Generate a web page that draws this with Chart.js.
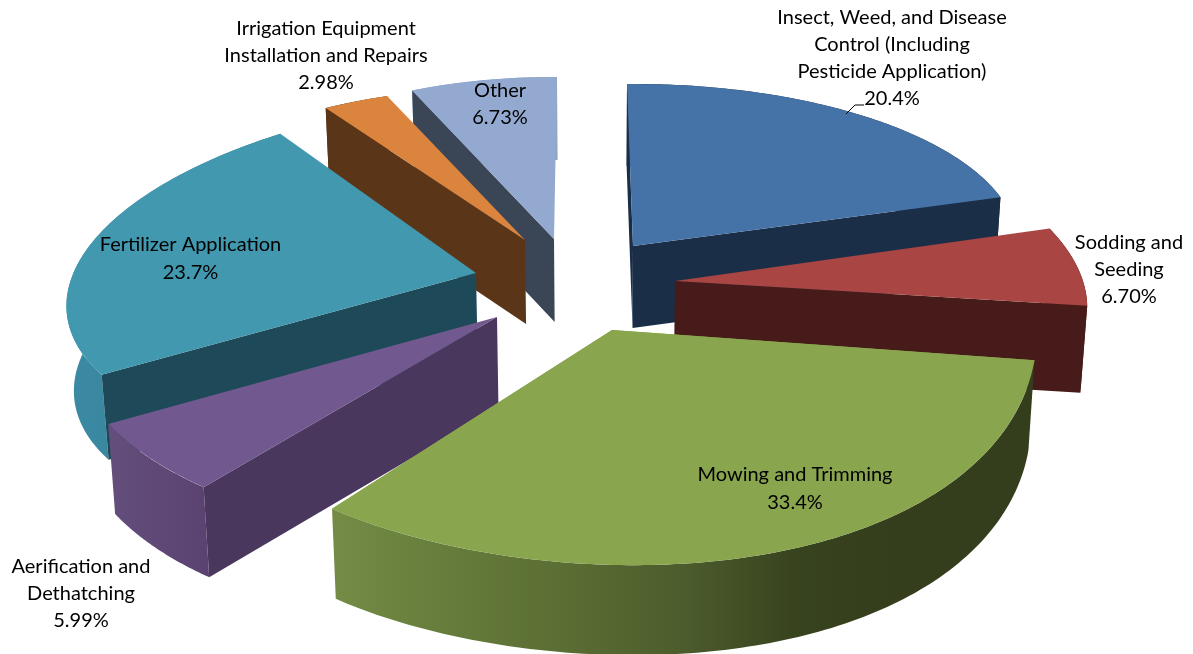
<!DOCTYPE html>
<html>
<head>
<meta charset="utf-8">
<style>
  html, body { margin: 0; padding: 0; background: #fff; }
  #wrap { width: 1193px; height: 654px; }
</style>
<script src="https://cdn.jsdelivr.net/npm/chart.js@4/dist/chart.umd.min.js"></script>
</head>
<body>
<div id="wrap"><canvas id="pie" width="1193" height="654"></canvas></div>
<script>
// Lawn care services, share of revenue
const categories = [
  'Insect, Weed, and Disease Control (Including Pesticide Application)',
  'Sodding and Seeding',
  'Mowing and Trimming',
  'Aerification and Dethatching',
  'Fertilizer Application',
  'Irrigation Equipment Installation and Repairs',
  'Other'
];
const shares = [20.4, 6.70, 33.4, 5.99, 23.7, 2.98, 6.73];
const shareLabels = ['20.4%', '6.70%', '33.4%', '5.99%', '23.7%', '2.98%', '6.73%'];

// Wrapped label text
const labelLines = [
  ['Insect, Weed, and Disease', 'Control (Including', 'Pesticide Application)'],
  ['Sodding and', 'Seeding'],
  ['Mowing and Trimming'],
  ['Aerification and', 'Dethatching'],
  ['Fertilizer Application'],
  ['Irrigation Equipment', 'Installation and Repairs'],
  ['Other']
];

// Slice styling
const topColors = ['#4573a7', '#a94543', '#89a54e', '#71588f', '#4198af', '#db843d', '#93a9cf'];
const wallColors = ['#1b2e48', '#471b19', '#36401d', '#4a375e', '#1e4958', '#5b3518', '#3a4556'];
const rimStops = [
  ['#1b2e48', '#1b2e48'],
  ['#471b19', '#471b19'],
  ['#748c46', '#667c3b', '#5a6d33', '#4c5c2c', '#37421e', '#343d1c', '#343d1c'],
  ['#644e7c', '#5a4370'],
  ['#3b8aa3', '#357c93'],
  ['#5b3518', '#5b3518'],
  ['#8fa4c9', '#8fa4c9']
];

// Explosion of each slice from the pie centre, in pixels
const explode = [[36.5, -81], [78.5, -46], [15.5, 3], [-99.5, -10], [-120.5, -54], [-71.5, -87], [-42.5, -88]];
// Tilted view: screen vectors of the slice's local right and up axes at full radius
const rightAxis = [[385, -3], [408, 0], [429, 0], [429, 5], [407, -13], [369, 13], [352, 2]];
const upAxis = [[-6, -162], [-59, -185], [20, -227], [37, -220], [46, -179], [15, -152], [3, -162]];
// Extra swelling of the near edge, where the view's perspective enlarges a slice
const nearSwell = [[0, 0], [0, 0], [20, 28], [0, 0], [0, 0], [0, 0], [0, 0]];
const depths = [82, 87, 90, 90, 85, 84, 83];
const visibleWalls = [['start', 'end'], ['end'], [], ['start'], ['start'], ['start'], ['start']];
const paintOrder = [6, 5, 4, 0, 1, 3, 2];
const vanishX = 600;
const vanishPull = 0.014;

// Label placement: centre x and first line-centre y, with line pitch
const labelPlace = [[892, 18, 26.7], [1129, 243, 27], [795, 475, 28], [81, 567, 27], [190.5, 245, 28], [326, 29, 27], [500, 91, 27]];
const labelFont = '20px Lato, "Open Sans", sans-serif';

function project(i, arc, angle) {
  const c = Math.cos(angle), s = Math.sin(angle);
  const t = (angle - arc.startAngle) / (arc.endAngle - arc.startAngle);
  const swell = Math.sin(Math.PI * t) * (1 - t);
  return {
    x: arc.x + explode[i][0] + c * rightAxis[i][0] - s * upAxis[i][0] + swell * nearSwell[i][0],
    y: arc.y + explode[i][1] + c * rightAxis[i][1] - s * upAxis[i][1] + swell * nearSwell[i][1]
  };
}
function drop(i, p) {
  return { x: p.x + (vanishX - p.x) * vanishPull, y: p.y + depths[i] };
}
function polygon(ctx, pts, fill) {
  ctx.beginPath();
  pts.forEach((p, k) => k ? ctx.lineTo(p.x, p.y) : ctx.moveTo(p.x, p.y));
  ctx.closePath();
  ctx.fillStyle = fill;
  ctx.fill();
}
function rimPoints(i, arc) {
  const pts = [];
  const steps = 120;
  for (let k = 0; k <= steps; k++) {
    pts.push(project(i, arc, arc.startAngle + (arc.endAngle - arc.startAngle) * k / steps));
  }
  return pts;
}

function drawRim(ctx, i, arc) {
  const top = rimPoints(i, arc);
  const bottom = top.map(p => drop(i, p)).reverse();
  const xs = top.map(p => p.x);
  const grad = ctx.createLinearGradient(Math.min(...xs), 0, Math.max(...xs), 0);
  rimStops[i].forEach((col, k) => grad.addColorStop(k / (rimStops[i].length - 1), col));
  polygon(ctx, top.concat(bottom), grad);
}

function drawWall(ctx, i, arc, side) {
  const apex = { x: arc.x + explode[i][0], y: arc.y + explode[i][1] };
  const rimPoint = project(i, arc, side === 'start' ? arc.startAngle : arc.endAngle);
  polygon(ctx, [apex, rimPoint, drop(i, rimPoint), drop(i, apex)], wallColors[i]);
}

function drawTop(ctx, i, arc) {
  const R = arc.outerRadius;
  const apex = { x: arc.x + explode[i][0], y: arc.y + explode[i][1] };
  ctx.save();
  ctx.transform(
    rightAxis[i][0] / R, rightAxis[i][1] / R,
    -upAxis[i][0] / R, -upAxis[i][1] / R,
    apex.x, apex.y
  );
  ctx.translate(-arc.x, -arc.y);
  arc.draw(ctx);
  ctx.restore();
  if (nearSwell[i][0] || nearSwell[i][1]) {
    polygon(ctx, [apex].concat(rimPoints(i, arc)), topColors[i]);
  }
}

// Turns the flat pie into raised, exploded wedges
const raisedSlices = {
  id: 'raisedSlices',
  beforeDatasetDraw(chart, args) {
    const ctx = chart.ctx;
    const arcs = args.meta.data;
    paintOrder.forEach(i => {
      drawRim(ctx, i, arcs[i]);
      visibleWalls[i].forEach(side => drawWall(ctx, i, arcs[i], side));
      drawTop(ctx, i, arcs[i]);
    });
    return false;
  },
  afterDraw(chart) {
    const ctx = chart.ctx;
    ctx.save();
    ctx.font = labelFont;
    ctx.fillStyle = '#000';
    ctx.textAlign = 'center';
    ctx.textBaseline = 'middle';
    labelLines.forEach((lines, i) => {
      const [x, y, pitch] = labelPlace[i];
      lines.concat(shareLabels[i]).forEach((text, k) => ctx.fillText(text, x, y + k * pitch));
    });
    // Leader from the first slice to its value
    ctx.strokeStyle = '#000';
    ctx.lineWidth = 1;
    ctx.beginPath();
    ctx.moveTo(846, 114);
    ctx.lineTo(855, 105);
    ctx.lineTo(864, 105);
    ctx.stroke();
    ctx.restore();
  }
};

new Chart(document.getElementById('pie'), {
  type: 'pie',
  data: {
    labels: categories,
    datasets: [{ data: shares, backgroundColor: topColors, borderWidth: 0 }]
  },
  options: {
    responsive: false,
    animation: false,
    rotation: 0,
    layout: { padding: 0 },
    events: [],
    plugins: { legend: { display: false }, tooltip: { enabled: false } }
  },
  plugins: [raisedSlices]
});
</script>
</body>
</html>
